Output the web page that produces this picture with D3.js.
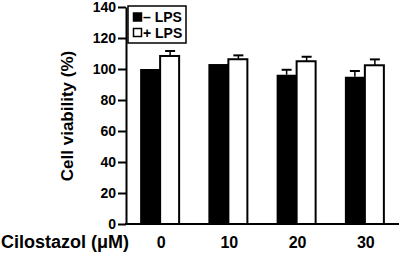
<!DOCTYPE html>
<html>
<head>
<meta charset="utf-8">
<script src="https://cdn.jsdelivr.net/npm/d3@7"></script>
<style>
  body { margin: 0; background: #fff; }
  svg { display: block; font-family: Arial, "Liberation Sans", sans-serif; font-weight: bold; }
</style>
</head>
<body>
<div id="chart"></div>
<script>
// Cilostazol dose vs cell viability, with / without LPS
const doses = ['0', '10', '20', '30'];
const seriesNames = ['\u2013 LPS', '+ LPS'];
const minusLps = [100, 103.2, 96.3, 95];
const minusLpsErr = [0, 0, 3.2, 3.7];
const plusLps = [108.4, 106.3, 105, 102.4];
const plusLpsErr = [3.2, 2.5, 2.9, 3.8];
const yTicks = [0, 20, 40, 60, 80, 100, 120, 140];

function renderChart() {
    const W = 400, H = 253;
    const svg = d3.select('#chart').append('svg')
        .attr('width', W)
        .attr('height', H);

    const x = d3.scaleBand()
        .domain(doses)
        .range([126, 399])
        .paddingInner(0.414)
        .paddingOuter(0.207);

    const sub = d3.scaleBand()
        .domain([0, 1])
        .range([0, x.bandwidth()]);

    const y = d3.scaleLinear()
        .domain([0, 140])
        .range([224, 7]);

    const rows = doses.map((d, i) => ({
        dose: d,
        vals: [
            { k: 0, v: minusLps[i], e: minusLpsErr[i] },
            { k: 1, v: plusLps[i], e: plusLpsErr[i] }
        ]
    }));

    const groups = svg.selectAll('.grp')
        .data(rows)
        .enter()
        .append('g')
        .attr('class', 'grp')
        .attr('transform', d => `translate(${x(d.dose)},0)`);

    // error bars (upper half only)
    const eb = groups.selectAll('.err')
        .data(d => d.vals.filter(v => v.e > 0))
        .enter()
        .append('g')
        .attr('class', 'err');
    eb.append('line')
        .attr('x1', d => sub(d.k) + sub.bandwidth() / 2)
        .attr('x2', d => sub(d.k) + sub.bandwidth() / 2)
        .attr('y1', d => y(d.v))
        .attr('y2', d => y(d.v + d.e))
        .attr('stroke', '#000')
        .attr('stroke-width', 1.5);
    eb.append('line')
        .attr('x1', d => sub(d.k) + sub.bandwidth() / 2 - 5)
        .attr('x2', d => sub(d.k) + sub.bandwidth() / 2 + 5)
        .attr('y1', d => y(d.v + d.e))
        .attr('y2', d => y(d.v + d.e))
        .attr('stroke', '#000')
        .attr('stroke-width', 2);

    groups.selectAll('rect')
        .data(d => d.vals)
        .enter()
        .append('rect')
        .attr('x', d => sub(d.k))
        .attr('y', d => y(d.v))
        .attr('width', d => d.k ? sub.bandwidth() - 1 : sub.bandwidth())
        .attr('height', d => y(0) - y(d.v))
        .attr('fill', d => d.k ? '#fff' : '#000')
        .attr('stroke', d => d.k ? '#000' : 'none')
        .attr('stroke-width', 2);

    // y axis
    const yAxis = svg.append('g')
        .attr('transform', 'translate(126,0)')
        .call(d3.axisLeft(y).tickValues(yTicks).tickSize(8).tickSizeOuter(0).tickPadding(2));
    yAxis.select('.domain').attr('stroke-width', 2);
    yAxis.selectAll('.tick line').attr('stroke-width', 2);
    yAxis.selectAll('.tick text')
        .style('font-size', '14px')
        .style('font-weight', 'bold')
        .attr('fill', '#000');

    // x axis baseline + labels
    svg.append('line')
        .attr('x1', 125).attr('x2', 399)
        .attr('y1', y(0)).attr('y2', y(0))
        .attr('stroke', '#000')
        .attr('stroke-width', 2);

    svg.selectAll('.xlab')
        .data(doses)
        .enter()
        .append('text')
        .attr('class', 'xlab')
        .attr('x', d => x(d) + x.bandwidth() / 2 + 1)
        .attr('y', 248)
        .attr('text-anchor', 'middle')
        .style('font-size', '16px')
        .text(d => d);

    svg.append('text')
        .attr('x', 1)
        .attr('y', 248)
        .style('font-size', '18px')
        .text('Cilostazol (\u03bcM)');

    svg.append('text')
        .attr('transform', 'translate(73,116) rotate(-90)')
        .attr('text-anchor', 'middle')
        .style('font-size', '17px')
        .text('Cell viability (%)');

    // legend
    const lg = svg.append('g');
    lg.append('rect')
        .attr('x', 128).attr('y', 6)
        .attr('width', 58).attr('height', 37)
        .attr('fill', '#fff')
        .attr('stroke', '#000')
        .attr('stroke-width', 1.5);
    seriesNames.forEach((name, i) => {
        lg.append('rect')
            .attr('x', 133.5).attr('y', 13 + i * 15.5)
            .attr('width', 8).attr('height', 8)
            .attr('fill', i ? '#fff' : '#000')
            .attr('stroke', '#000')
            .attr('stroke-width', 1.5);
        lg.append('text')
            .attr('x', 143).attr('y', 22 + i * 15.5)
            .style('font-size', '14px')
            .text(name);
    });
}

renderChart();
</script>
</body>
</html>
